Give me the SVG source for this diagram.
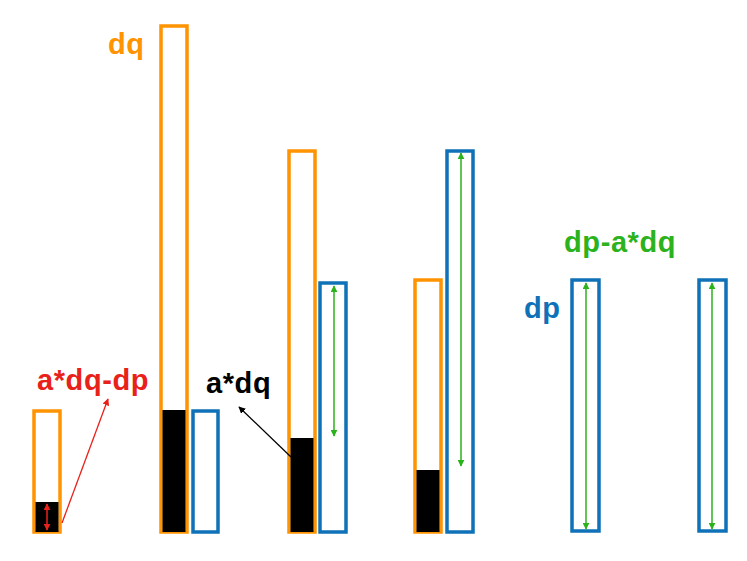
<svg xmlns="http://www.w3.org/2000/svg" width="747" height="561" viewBox="0 0 747 561">
<style>
.o{fill:#fff;stroke:#FF9300;stroke-width:3.5}
.b{fill:#fff;stroke:#0F71B7;stroke-width:3.5}
.f{fill:#000}
.t{font-family:"Liberation Sans",Arial,sans-serif;font-weight:bold;font-size:29px;letter-spacing:0.6px}
.g{stroke:#2BB21C;stroke-width:1.5;fill:none}
</style>
<defs>
<marker id="ag" viewBox="0 0 10 10" refX="9" refY="5" markerWidth="7" markerHeight="7" markerUnits="userSpaceOnUse" orient="auto-start-reverse"><path d="M0,0L10,5L0,10z" fill="#2BB21C"/></marker>
<marker id="ar" viewBox="0 0 10 10" refX="9" refY="5" markerWidth="7" markerHeight="7" markerUnits="userSpaceOnUse" orient="auto-start-reverse"><path d="M0,0L10,5L0,10z" fill="#E8221A"/></marker>
<marker id="ak" viewBox="0 0 10 10" refX="9" refY="5" markerWidth="7" markerHeight="7" markerUnits="userSpaceOnUse" orient="auto-start-reverse"><path d="M0,0L10,5L0,10z" fill="#000"/></marker>
</defs>
<g id="bar1">
<rect class="o" x="34" y="411" width="26" height="121"/>
<rect class="f" x="35.5" y="502" width="23" height="30"/>
</g>
<g id="bar2">
<rect class="o" x="161" y="26" width="26" height="506"/>
<rect class="f" x="162.5" y="410" width="23" height="122"/>
<rect class="b" x="193" y="411" width="25" height="121"/>
</g>
<g id="bar3">
<rect class="o" x="289" y="151" width="26" height="381"/>
<rect class="f" x="290.5" y="438" width="23" height="94"/>
<rect class="b" x="320" y="283" width="26" height="249"/>
</g>
<g id="bar4">
<rect class="o" x="415" y="280" width="26" height="252"/>
<rect class="f" x="416.5" y="470" width="23" height="62"/>
<rect class="b" x="447" y="151" width="26" height="381"/>
</g>
<g id="bar5">
<rect class="b" x="572" y="280" width="27" height="251"/>
</g>
<g id="bar6">
<rect class="b" x="699" y="280" width="27" height="251"/>
</g>
<g id="labels">
<text class="t" x="108" y="54" fill="#FF9300" font-size="28">dq</text>
<text class="t" x="37" y="390" fill="#E8221A">a*dq-dp</text>
<text class="t" x="206" y="393" fill="#000">a*dq</text>
<text class="t" x="564" y="252" fill="#2BB21C">dp-a*dq</text>
<text class="t" x="524" y="318" fill="#0F71B7" font-size="28">dp</text>
</g>
<g id="connectors">
<line x1="47" y1="504" x2="47" y2="530" stroke="#E8221A" stroke-width="1.5" marker-start="url(#ar)" marker-end="url(#ar)"/>
<line x1="62" y1="523" x2="108" y2="399" stroke="#E8221A" stroke-width="1.3" marker-end="url(#ar)"/>
<line x1="291" y1="457" x2="239" y2="407" stroke="#000" stroke-width="1.3" marker-end="url(#ak)"/>
<line class="g" x1="334" y1="286" x2="334" y2="436" marker-start="url(#ag)" marker-end="url(#ag)"/>
<line class="g" x1="461" y1="153" x2="461" y2="466" marker-start="url(#ag)" marker-end="url(#ag)"/>
<line class="g" x1="586" y1="283" x2="586" y2="529" marker-start="url(#ag)" marker-end="url(#ag)"/>
<line class="g" x1="712" y1="283" x2="712" y2="529" marker-start="url(#ag)" marker-end="url(#ag)"/>
</g>
</svg>
